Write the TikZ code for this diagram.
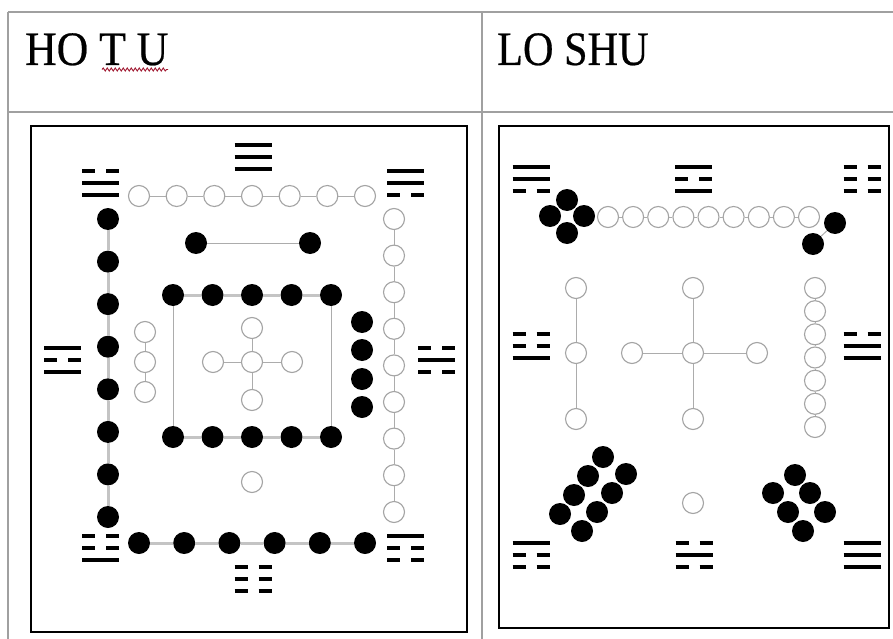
\documentclass[tikz,border=0pt]{standalone}
\usepackage{fontspec}
\usepackage{graphicx}
\setmainfont{Liberation Serif}
\newfontfamily\headfont[FakeBold=0.5]{Liberation Serif}
\usetikzlibrary{decorations.pathmorphing}
\definecolor{tablegray}{HTML}{A0A0A0}
\definecolor{dotgray}{HTML}{A4A4A4}
\definecolor{linegray}{HTML}{ACACAC}
\definecolor{barline}{HTML}{C4C4C4}
\definecolor{squiggle}{HTML}{A01830}
\tikzset{
  tbl/.style={draw=tablegray, line width=1.6pt},
  panelbox/.style={draw=black, line width=2pt},
  wdot/.style={circle, draw=dotgray, line width=1.1pt, fill=white, minimum size=21pt, inner sep=0pt},
  bdot/.style={circle, fill=black, draw=none, minimum size=22pt, inner sep=0pt},
  thinln/.style={draw=linegray, line width=1pt},
  barln/.style={draw=barline, line width=3pt},
  triln/.style={draw=black, line width=4.5pt},
  headtxt/.style={anchor=base west, inner sep=0pt, font=\headfont\fontsize{48}{48}\selectfont}
}
\newcommand\mytri[5]{%
  \foreach \v [count=\k] in {#3,#4,#5}{%
    \pgfmathsetmacro\yy{#2+(\k-2)*12}%
    \ifnum\v=1
      \draw[triln] ({#1-18.5},\yy) -- ({#1+18.5},\yy);
    \else
      \draw[triln] ({#1-18.5},\yy) -- ({#1-5.5},\yy) ({#1+5.5},\yy) -- ({#1+18.5},\yy);
    \fi
  }}
\begin{document}
\begin{tikzpicture}[x=1pt,y=-1pt]
\useasboundingbox (0,0) rectangle (893,639);
\fill[white] (0,0) rectangle (893,639);
% table
\draw[tbl] (8,12) -- (893,12);
\draw[tbl] (8,112) -- (893,112);
\draw[tbl] (8,12) -- (8,639);
\draw[tbl] (482,12) -- (482,639);
\node[headtxt] (h1) at (25,65) {\scalebox{0.91}[1]{HO T U}};
\node[headtxt] (h2) at (497,65) {\scalebox{0.88}[1]{LO SHU}};
\draw[squiggle, line width=0.9pt, decorate, decoration={snake, amplitude=1.5pt, segment length=4pt}] (102,69.5) -- (168,69.5);
% panel boxes
\draw[panelbox] (31,126) rectangle (467,632);
\draw[panelbox] (499,126) rectangle (889,628);

% ===== HO TU =====
% top row: 7 white
\foreach \x [count=\i] in {139,176.7,214.3,252,289.7,327.3,365}
  \node[wdot] (ht\i) at (\x,196) {};
\foreach \i [remember=\i as \j (initially 1)] in {2,...,7}
  \draw[thinln] (ht\j) -- (ht\i);
% right column: 9 white
\foreach \y [count=\i] in {219,255.6,292.2,328.8,365.4,402,438.6,475.2,512}
  \node[wdot] (hr\i) at (394,\y) {};
\foreach \i [remember=\i as \j (initially 1)] in {2,...,9}
  \draw[thinln] (hr\j) -- (hr\i);
% left column: 8 black
\foreach \y [count=\i] in {219,261.6,304.1,346.7,389.3,431.9,474.4,517}
  \node[bdot] (hl\i) at (108,\y) {};
\foreach \i [remember=\i as \j (initially 1)] in {2,...,8}
  \draw[barln] (hl\j) -- (hl\i);
% bottom row: 6 black
\foreach \x [count=\i] in {139,184.2,229.4,274.6,319.8,365}
  \node[bdot] (hb\i) at (\x,543) {};
\foreach \i [remember=\i as \j (initially 1)] in {2,...,6}
  \draw[barln] (hb\j) -- (hb\i);
% inner pair of black
\node[bdot] (ip1) at (196,243) {};
\node[bdot] (ip2) at (310,243) {};
\draw[thinln] (ip1) -- (ip2);
% inner square of ten black
\foreach \x [count=\i] in {173,212.5,252,291.5,331}{
  \node[bdot] (st\i) at (\x,295) {};
  \node[bdot] (sb\i) at (\x,437) {};
}
\foreach \i [remember=\i as \j (initially 1)] in {2,...,5}{
  \draw[barln] (st\j) -- (st\i);
  \draw[barln] (sb\j) -- (sb\i);
}
\draw[thinln] (st1) -- (sb1);
\draw[thinln] (st5) -- (sb5);
% four black on the right
\foreach \y [count=\i] in {322,350,379,407}
  \node[bdot] (fr\i) at (362,\y) {};
% three white on the left
\foreach \y [count=\i] in {332,362,392}
  \node[wdot] (tl\i) at (145,\y) {};
\draw[thinln] (tl1) -- (tl2);
\draw[thinln] (tl2) -- (tl3);
% centre five white
\node[wdot] (cc) at (252,362) {};
\node[wdot] (cn) at (252,328) {};
\node[wdot] (cs) at (252,400) {};
\node[wdot] (cw) at (213,362) {};
\node[wdot] (ce) at (292,362) {};
\foreach \n in {cn,cs,cw,ce} \draw[thinln] (cc) -- (\n);
% single white below
\node[wdot] (one) at (252,482) {};
% trigrams
\mytri{100.5}{183}{0}{1}{1}
\mytri{253}{157}{1}{1}{1}
\mytri{405.5}{183}{1}{1}{0}
\mytri{62.5}{360}{1}{0}{1}
\mytri{436.5}{360}{0}{1}{0}
\mytri{100.5}{548}{0}{0}{1}
\mytri{253}{579}{0}{0}{0}
\mytri{405.5}{548}{1}{0}{0}

% ===== LO SHU =====
% four black (top-left)
\node[bdot] (q1) at (567,200) {};
\node[bdot] (q2) at (550,216) {};
\node[bdot] (q3) at (584,216) {};
\node[bdot] (q4) at (567,233) {};
% nine white top row
\foreach \x [count=\i] in {608,633.1,658.2,683.4,708.5,733.6,758.8,783.9,809}
  \node[wdot] (lt\i) at (\x,217) {};
\foreach \i [remember=\i as \j (initially 1)] in {2,...,9}
  \draw[thinln] (lt\j) -- (lt\i);
% two black
\node[bdot] (tw1) at (835,223) {};
\node[bdot] (tw2) at (813,244) {};
\draw[thinln] (tw1) -- (tw2);
% three white left
\node[wdot] (lw1) at (576,288) {};
\node[wdot] (lw2) at (576,353) {};
\node[wdot] (lw3) at (576,419) {};
\draw[thinln] (lw1) -- (lw2);
\draw[thinln] (lw2) -- (lw3);
% centre five white
\node[wdot] (lc) at (693,353) {};
\node[wdot] (ln) at (693,288) {};
\node[wdot] (ls) at (693,419) {};
\node[wdot] (lw) at (632,353) {};
\node[wdot] (le) at (757,353) {};
\foreach \n in {ln,ls,lw,le} \draw[thinln] (lc) -- (\n);
% seven white right
\foreach \y [count=\i] in {288,311.2,334.3,357.5,380.7,403.8,427}
  \node[wdot] (lr\i) at (815,\y) {};
\foreach \i [remember=\i as \j (initially 1)] in {2,...,7}
  \draw[thinln] (lr\j) -- (lr\i);
% eight black (bottom-left)
\node[bdot] (e1) at (603,457) {};
\node[bdot] (e2) at (588,476) {};
\node[bdot] (e3) at (574,495) {};
\node[bdot] (e4) at (560,514) {};
\node[bdot] (e5) at (626,474) {};
\node[bdot] (e6) at (612,493) {};
\node[bdot] (e7) at (597,512) {};
\node[bdot] (e8) at (582,531) {};
% one white bottom
\node[wdot] (lone) at (693,503) {};
% six black (bottom-right)
\node[bdot] (s1) at (795,475) {};
\node[bdot] (s2) at (773,493) {};
\node[bdot] (s3) at (810,493) {};
\node[bdot] (s4) at (788,512) {};
\node[bdot] (s5) at (825,512) {};
\node[bdot] (s6) at (803,531) {};
% trigrams
\mytri{531}{179}{1}{1}{0}
\mytri{693.5}{179}{1}{0}{1}
\mytri{862}{179}{0}{0}{0}
\mytri{531}{346}{0}{0}{1}
\mytri{862}{346}{0}{1}{1}
\mytri{531}{555}{1}{0}{0}
\mytri{694}{555}{0}{1}{0}
\mytri{862}{555}{1}{1}{1}
\end{tikzpicture}
\end{document}
